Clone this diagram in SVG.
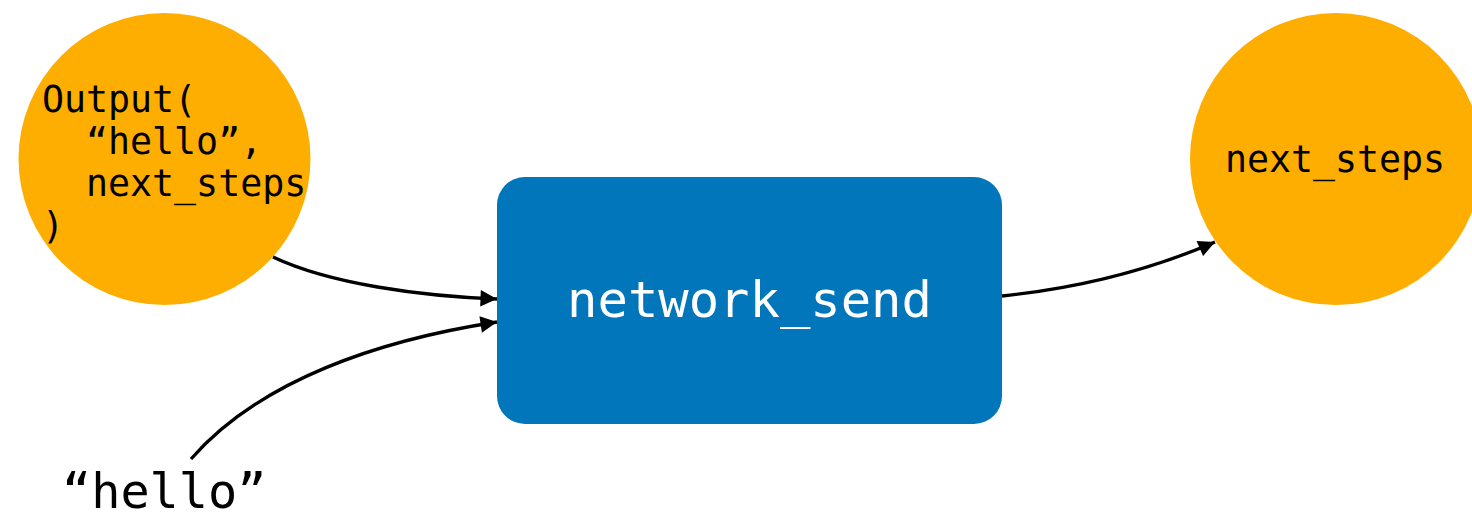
<svg xmlns="http://www.w3.org/2000/svg" width="1472" height="523" viewBox="0 0 1472 523">
  <defs>
    <marker id="arrow" viewBox="0 0 10 10" refX="10" refY="5" markerWidth="5.5" markerHeight="5" orient="auto" markerUnits="strokeWidth">
      <path d="M0,0 L10,5 L0,10 z" fill="#000"/>
    </marker>
    <style>
      .circle { fill: #FEAE00; }
      .box { fill: #0176BA; }
      .mono { font-family: "DejaVu Sans Mono", "Liberation Mono", monospace; }
      .dark { fill: #000; font-size: 36.6px; }
      .light { fill: #fff; font-size: 50.5px; }
      .edge { fill: none; stroke: #000; stroke-width: 3.3; marker-end: url(#arrow); }
    </style>
  </defs>
  <rect width="1472" height="523" fill="#fff"/>

  <g id="output-node">
    <circle class="circle" cx="164.5" cy="159" r="146"/>
    <text class="mono dark" x="42" y="112">Output(</text>
    <text class="mono dark" x="86" y="154">“hello”,</text>
    <text class="mono dark" x="86" y="196">next_steps</text>
    <text class="mono dark" x="42" y="238">)</text>
  </g>

  <g id="network-send">
    <rect class="box" x="497" y="177" width="505" height="247" rx="28" ry="28"/>
    <text class="mono light" x="749.5" y="317" text-anchor="middle">network_send</text>
  </g>

  <g id="next-steps">
    <circle class="circle" cx="1336" cy="159" r="146"/>
    <text class="mono dark" x="1335" y="172" text-anchor="middle">next_steps</text>
  </g>

  <g id="hello-value">
    <text class="mono" x="62" y="508" font-size="48.5" fill="#000">“hello”</text>
  </g>

  <g id="connectors">
    <path class="edge" d="M273,257 C330,284 420,296 497,299"/>
    <path class="edge" d="M191,459 C260,380 380,340 497,322"/>
    <path class="edge" d="M1002,296 C1080,288 1150,270 1215,242"/>
  </g>
</svg>
